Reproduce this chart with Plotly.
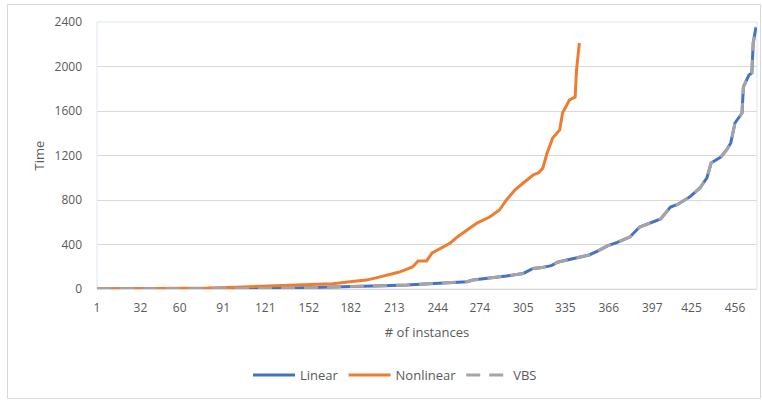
import plotly.graph_objects as go

# ---- data (instance index, time) ----
linear_x = [1, 20, 50, 80, 100, 120, 140, 160, 174, 190, 205, 217, 222, 235, 250, 260, 265,
            269, 280, 288, 293, 305, 312, 317, 325, 330, 336, 340, 352, 358, 365, 372, 381,
            388, 395, 403, 410, 415, 424, 431, 436, 439, 446, 450, 453, 456, 461, 462, 466,
            468, 469, 471]
linear_time = [0, 0, 1, 2, 4, 6, 9, 13, 18, 24, 29, 32, 36, 45, 57, 63, 66,
               80, 96, 108, 117, 140, 185, 190, 210, 243, 262, 272, 306, 340, 387, 420, 467,
               557, 590, 630, 737, 760, 830, 908, 1000, 1133, 1187, 1250, 1313, 1492, 1582, 1816, 1924,
               1942, 2211, 2355]

nonlinear_x = [1, 30, 60, 80, 95, 110, 123, 140, 155, 169, 180, 193, 200, 208, 216, 222, 226,
               230, 236, 240, 248, 253, 258, 265, 272, 281, 288, 293, 299, 305, 312, 316, 319,
               322, 326, 331, 333, 338, 342, 343, 345]
nonlinear_time = [0, 1, 3, 8, 14, 20, 26, 32, 40, 48, 62, 80, 100, 126, 150, 178, 198,
                  252, 252, 324, 378, 414, 468, 530, 593, 647, 710, 800, 890, 953, 1025, 1045, 1088,
                  1222, 1357, 1430, 1582, 1700, 1726, 1969, 2211]

vbs_x = list(linear_x)
vbs_time = list(linear_time)

x_ticks = [1, 32, 60, 91, 121, 152, 182, 213, 244, 274, 305, 335, 366, 397, 425, 456]
y_ticks = [0, 400, 800, 1200, 1600, 2000, 2400]

FONT = "Open Sans"
GRAY = "#595959"

fig = go.Figure()
fig.add_trace(go.Scatter(x=linear_x, y=linear_time, name="Linear", mode="lines",
                         line=dict(color="#4472C4", width=3), cliponaxis=False))
fig.add_trace(go.Scatter(x=nonlinear_x, y=nonlinear_time, name="Nonlinear", mode="lines",
                         line=dict(color="#ED7D31", width=3), cliponaxis=False))
fig.add_trace(go.Scatter(x=vbs_x, y=vbs_time, name="VBS", mode="lines",
                         line=dict(color="#A5A5A5", width=3, dash="14px,9px"), cliponaxis=False))

L, R, T, B = 97, 5, 22, 113
W, H = 762, 402
pw, ph = W - L - R, H - T - B

def px_x(p):
    return (p - L) / pw

def px_y(p):
    return (H - B - p) / ph

fig.update_layout(
    width=W, height=H,
    margin=dict(l=L, r=R, t=T, b=B, autoexpand=False),
    paper_bgcolor="white", plot_bgcolor="white",
    font=dict(family=FONT, size=12, color=GRAY),
    showlegend=True,
    legend=dict(orientation="h", x=px_x(395), xanchor="center", y=px_y(375), yanchor="middle",
                font=dict(size=13, color=GRAY), itemwidth=42, bgcolor="rgba(0,0,0,0)"),
    xaxis=dict(range=[1, 471.7], tickmode="array", tickvals=x_ticks, ticktext=[str(v) for v in x_ticks],
               showgrid=False, zeroline=False, showline=True, linecolor="#d9d9d9", linewidth=1,
               ticks="", ticklabelstandoff=8, automargin=False,
               title=dict(text="# of instances", font=dict(size=13, color=GRAY), standoff=12)),
    yaxis=dict(range=[0, 2400], tickmode="array", tickvals=y_ticks,
               showgrid=True, gridcolor="#d9d9d9", gridwidth=1, zeroline=False,
               showline=False, ticks="", ticklabelstandoff=14, automargin=False,
               title=dict(text="Time", font=dict(size=13, color=GRAY), standoff=6)),
    shapes=[
        dict(type="rect", xref="paper", yref="paper", x0=0, x1=1, y0=0, y1=1,
             line=dict(color="#dde5f3", width=1), layer="below"),
        dict(type="rect", xref="paper", yref="paper", x0=px_x(7.5), x1=px_x(760.5),
             y0=px_y(398.5), y1=px_y(4.5), line=dict(color="#d9d9d9", width=1), layer="below"),
    ],
)

fig.write_html("out.html", config={"displayModeBar": False},
               post_script="document.body.style.margin='0';")
